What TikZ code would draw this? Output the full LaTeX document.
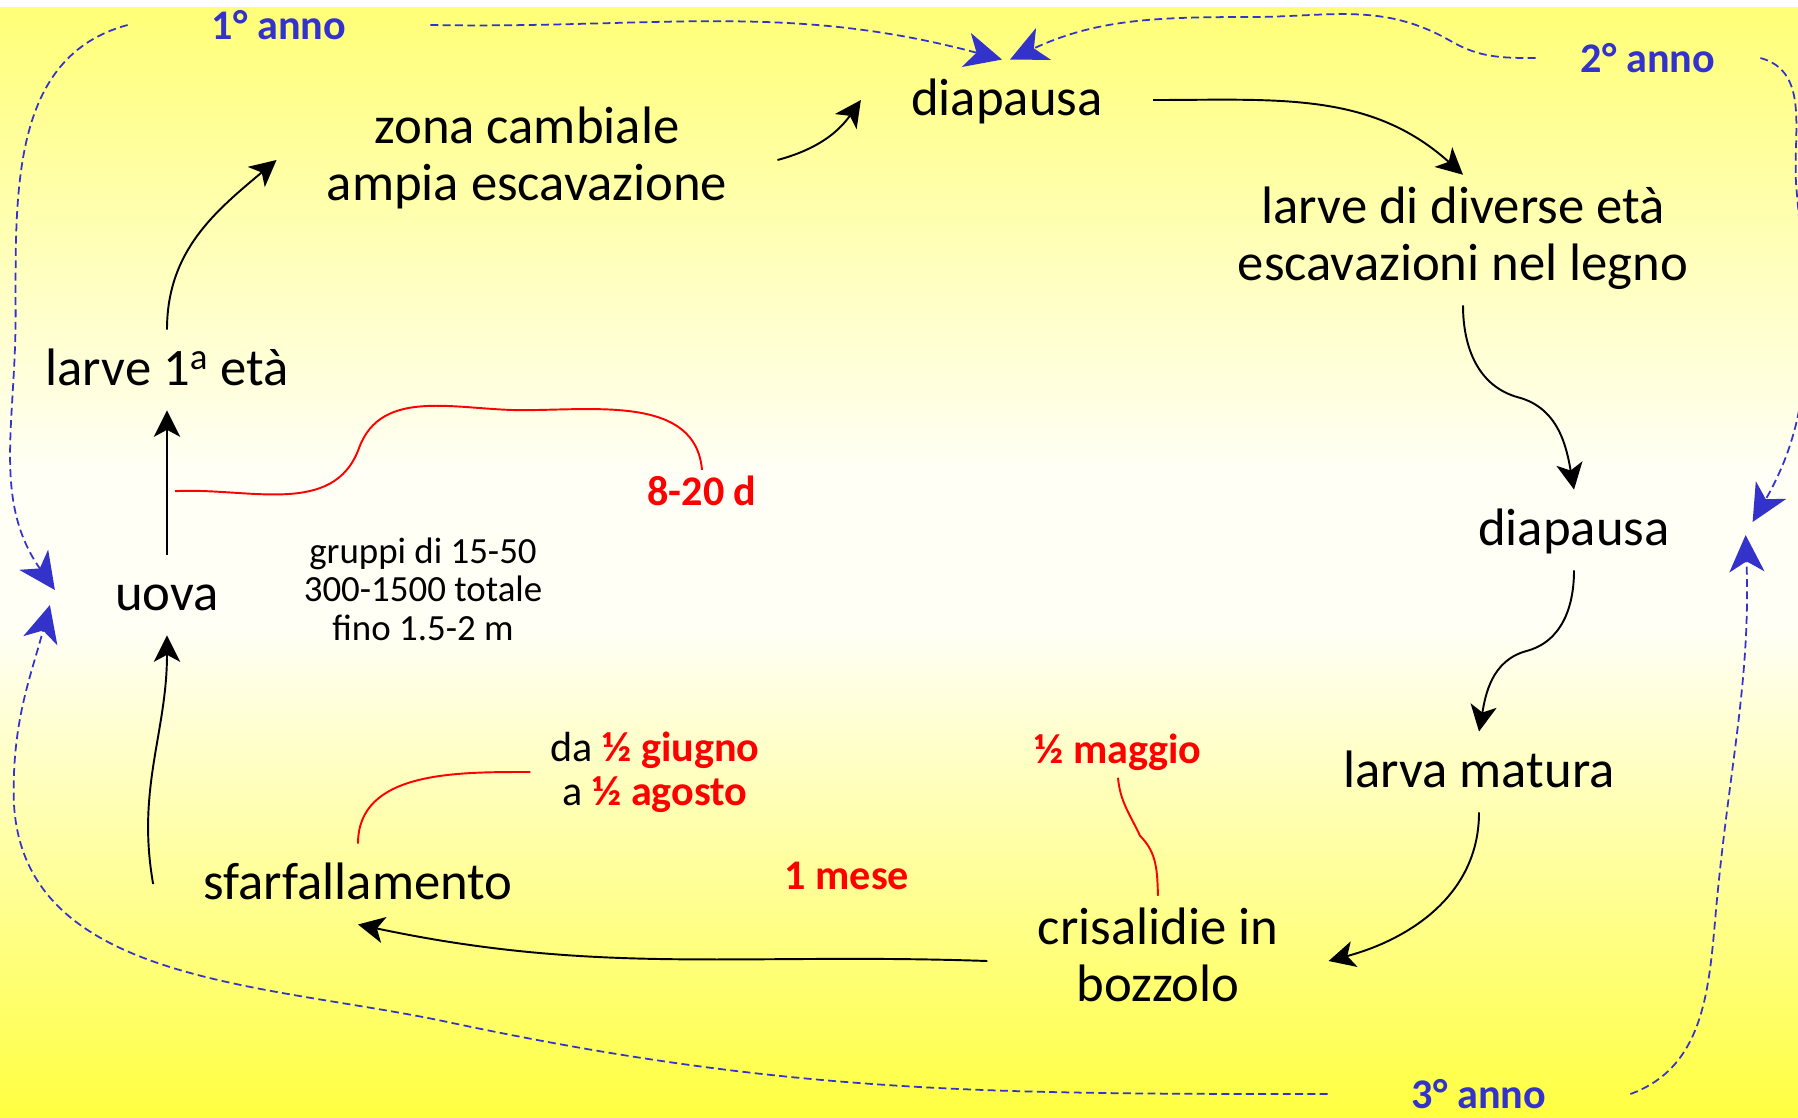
\documentclass[tikz,border=0pt]{standalone}
\usepackage{fontspec}
\setmainfont{Carlito}
\usetikzlibrary{arrows.meta,calc}

\definecolor{annoblue}{RGB}{51,51,204}
\definecolor{bgtop}{RGB}{255,255,119}
\definecolor{bgmid}{RGB}{255,255,246}
\definecolor{bgbot}{RGB}{255,255,64}
\pgfdeclareverticalshading{bgfade}{100bp}{color(0bp)=(bgbot); color(25bp)=(bgbot);
    color(47bp)=(bgmid); color(54bp)=(bgmid); color(75bp)=(bgtop); color(100bp)=(bgtop)}

\begin{document}
\begin{tikzpicture}[x=0.02cm, y=-0.02cm,
    stage/.style={font=\fontsize{30}{32.4}\selectfont, align=center,
        inner xsep=1cm, inner ysep=0.24cm,
        execute at begin node={\rule{0pt}{25pt}},
        execute at end node={\rule[-7pt]{0pt}{7pt}}},
    note/.style={font=\fontsize{21}{22}\selectfont, align=center},
    redlabel/.style={font=\fontsize{24}{25}\selectfont\bfseries, text=red},
    yearlabel/.style={font=\fontsize{24}{25}\selectfont\bfseries, text=annoblue, inner xsep=1.68cm},
    lifearrow/.style={line width=1.1pt, -{Stealth[length=15pt,width=15pt,inset=4pt]}},
    redlink/.style={red, line width=1.1pt},
    yearline/.style={annoblue, line width=1pt, dash pattern=on 4.5pt off 2.5pt},
    yeararrow/.style={yearline, -{Stealth[length=21pt,width=20pt,inset=6pt]}}]

    \useasboundingbox (0,0) rectangle (1798,1117);
    \fill[white] (0,0) rectangle (1798,1117);
    \shade[shading=bgfade] (0,7) rectangle (1798,1117);

    \node[stage] (diapA) at (1007,100) {diapausa};
    \node[stage] (zona) at (527,160) {zona cambiale\\ampia escavazione};
    \node[stage] (legno) at (1463,240) {larve di diverse età\\escavazioni nel legno};
    \node[stage] (larve1) at (167,370) {larve 1\textsuperscript{a} età};
    \node[stage] (diapB) at (1574,530) {diapausa};
    \node[stage] (uova) at (167,595) {uova};
    \node[stage] (matura) at (1479,772) {larva matura};
    \node[stage] (sfarf) at (358,884) {sfarfallamento};
    \node[stage] (bozzolo) at (1158,961) {crisalidie in\\bozzolo};

    \node[note] (gruppi) at (423,589) {gruppi di 15-50\\300-1500 totale\\fino 1.5-2 m};
    \node[redlabel] (giorni) at (702,491) {8-20 d};
    \node[redlabel] (mese) at (847,876) {1 mese};
    \node[redlabel, inner sep=4pt] (maggio) at (1118,752) {½ maggio};
    \node[font=\fontsize{24}{25}\selectfont, align=center, inner xsep=0.4cm] (estate) at (655,772)
        {da \textcolor{red}{\bfseries ½ giugno}\\a \textcolor{red}{\bfseries ½ agosto}};

    \node[yearlabel] (anno1) at (279,25) {1° anno};
    \node[yearlabel, inner xsep=0.9cm] (anno2) at (1648,58) {2° anno};
    \node[yearlabel] (anno3) at (1479,1094) {3° anno};

    \draw[lifearrow] (uova.north) -- coordinate[pos=0.44] (schiusa) (larve1.south);
    \draw[lifearrow] (larve1.north) to[out=90,in=-140] (zona.west);
    \draw[lifearrow] (zona.east) to[out=15,in=-125] (diapA.west);
    \draw[lifearrow] (diapA.east) to[out=0,in=138] (legno.north);
    \draw[lifearrow] (legno.south) to[out=-90,in=165] ($(legno.south)!0.5!(diapB.north)$)
        to[out=-15,in=100] (diapB.north);
    \draw[lifearrow] (diapB.south) to[out=-90,in=15] ($(diapB.south)!0.5!(matura.north)$)
        to[out=195,in=80] (matura.north);
    \draw[lifearrow] (matura.south) to[out=-90,in=15] (bozzolo.east);
    \draw[lifearrow] (bozzolo.west) to[out=178,in=-12] (sfarf.south);
    \draw[lifearrow] (sfarf.west) to[out=100,in=-90] (uova.south);

    \draw[redlink] ([xshift=0.16cm]schiusa) to[out=3,in=-110] ++(184,-43)
        to[out=70,in=180] ++(163,-38) to[out=0,in=95] (giorni.north);
    \draw[redlink] (sfarf.north) to[out=90,in=180] (estate.west);
    \draw[redlink] (maggio.south) to[out=-85,in=115] ++(22,58) to[out=-45,in=92] (bozzolo.north);

    \draw[yeararrow] (anno1.east) to[out=-1,in=165] ([xshift=-0.1cm]diapA.north);
    \draw[yeararrow] (anno2.west) to[out=180,in=-30] ++(-85,-17) to[out=150,in=0] ++(-200,-24)
        to[out=180,in=25] ([xshift=0.06cm]diapA.north);
    \draw[yeararrow] (anno2.east) to[out=-15,in=95] ++(36,130)
        to[out=-85,in=60] ([xshift=0.65cm,yshift=0.16cm]diapB.east);
    \draw[yeararrow] (anno3.east) to[out=20,in=-95] ++(85,-177)
        to[out=85,in=-88] ([xshift=0.51cm,yshift=-0.1cm]diapB.east);
    \draw[yeararrow] (anno1.west) to[out=195,in=90] ++(-112,290)
        to[out=-90,in=125] ([xshift=-0.2cm,yshift=0.1cm]uova.west);
    \draw[yeararrow] (anno3.west) to[out=180,in=-12] ++(-880,-72) to[out=168,in=-90] ++(-434,-230)
        to[out=90,in=-105] ([xshift=-0.3cm,yshift=-0.2cm]uova.west);
\end{tikzpicture}
\end{document}
